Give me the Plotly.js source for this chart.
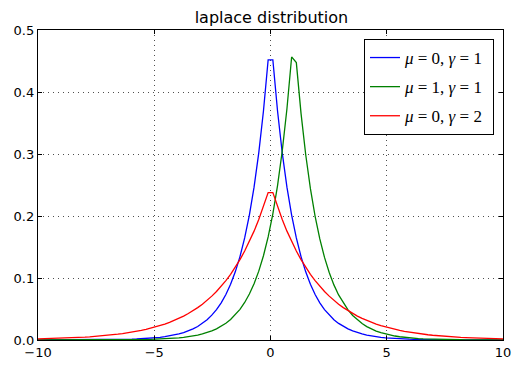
<!DOCTYPE html>
<html><head><meta charset="utf-8">
<script src="https://cdn.plot.ly/plotly-3.0.1.min.js"></script>
<style>html,body{margin:0;padding:0;background:#fff}#chart{width:521px;height:370px}</style>
</head><body><div id="chart"></div>
<script>
var xNeg = [-10,-9.798,-9.596,-9.394,-9.192,-8.990,-8.788,-8.586,-8.384,-8.182,-7.980,-7.778,-7.576,-7.374,-7.172,-6.970,-6.768,-6.566,-6.364,-6.162,-5.960,-5.758,-5.556,-5.354,-5.152,-4.949,-4.747,-4.545,-4.343,-4.141,-3.939,-3.737,-3.535,-3.333,-3.131,-2.929,-2.727,-2.525,-2.323,-2.121,-1.919,-1.717,-1.515,-1.313,-1.111,-0.909,-0.707,-0.505,-0.303,-0.101];
var xPos = [0.101,0.303,0.505,0.707,0.909,1.111,1.313,1.515,1.717,1.919,2.121,2.323,2.525,2.727,2.929,3.131,3.333,3.535,3.737,3.939,4.141,4.343,4.545,4.747,4.949,5.152,5.354,5.556,5.758,5.960,6.162,6.364,6.566,6.768,6.970,7.172,7.374,7.576,7.778,7.980,8.182,8.384,8.586,8.788,8.990,9.192,9.394,9.596,9.798,10];
var xValues = xNeg.concat(xPos);

// mu=0, gamma=1
var yBlueRight = [0.45197,0.36930,0.30176,0.24657,0.20147,0.16463,0.13452,0.10992,0.08981,0.07339,0.05997,0.04900,0.04004,0.03272,0.02673,0.02184,0.01785,0.01458,0.01192,0.00974,0.00796,0.00650,0.00531,0.00434,0.00355,0.00290,0.00237,0.00193,0.00158,0.00129,0.00106,0.00086,0.00071,0.00058,0.00047,0.00039,0.00031,0.00026,0.00021,0.00017,0.00014,0.00011,0.00009,0.00008,0.00006,0.00005,0.00004,0.00003,0.00003,0.00002];
var yBlueLeft = [0.00002,0.00003,0.00003,0.00004,0.00005,0.00006,0.00008,0.00009,0.00011,0.00014,0.00017,0.00021,0.00026,0.00031,0.00039,0.00047,0.00058,0.00071,0.00086,0.00106,0.00129,0.00158,0.00193,0.00237,0.00290,0.00355,0.00434,0.00531,0.00650,0.00796,0.00974,0.01192,0.01458,0.01785,0.02184,0.02673,0.03272,0.04004,0.04900,0.05997,0.07339,0.08981,0.10992,0.13452,0.16463,0.20147,0.24657,0.30176,0.36930,0.45197];
var yBlue = yBlueLeft.concat(yBlueRight);

// mu=1, gamma=1
var yGreen = [0.00001,0.00001,0.00001,0.00002,0.00002,0.00002,0.00003,0.00003,0.00004,0.00005,0.00006,0.00008,0.00009,0.00012,0.00014,0.00017,0.00021,0.00026,0.00032,0.00039,0.00048,0.00058,0.00071,0.00087,0.00107,0.00131,0.00160,0.00196,0.00239,0.00293,0.00358,0.00438,0.00537,0.00657,0.00804,0.00983,0.01204,0.01473,0.01803,0.02206,0.02700,0.03304,0.04044,0.04949,0.06057,0.07413,0.09072,0.11103,0.13588,0.16629,0.20352,0.24907,0.30482,0.37305,0.45655,
  0.44742,0.36559,0.29872,0.24409,0.19944,0.16296,0.13316,0.10880,0.08890,0.07264,0.05936,0.04850,0.03963,0.03238,0.02646,0.02162,0.01767,0.01443,0.01179,0.00964,0.00787,0.00643,0.00526,0.00430,0.00351,0.00287,0.00234,0.00191,0.00156,0.00128,0.00104,0.00085,0.00070,0.00057,0.00047,0.00038,0.00031,0.00025,0.00021,0.00017,0.00014,0.00011,0.00009,0.00008,0.00006];

// mu=0, gamma=2
var yRedRight = [0.23769,0.21486,0.19422,0.17556,0.15869,0.14345,0.12967,0.11721,0.10595,0.09577,0.08657,0.07825,0.07074,0.06394,0.05780,0.05225,0.04723,0.04269,0.03859,0.03488,0.03153,0.02850,0.02576,0.02329,0.02105,0.01903,0.01720,0.01555,0.01405,0.01270,0.01148,0.01038,0.00938,0.00848,0.00767,0.00693,0.00626,0.00566,0.00512,0.00463,0.00418,0.00378,0.00342,0.00309,0.00279,0.00252,0.00228,0.00206,0.00186,0.00168];
var yRedLeft = [0.00168,0.00186,0.00206,0.00228,0.00252,0.00279,0.00309,0.00342,0.00378,0.00418,0.00463,0.00512,0.00566,0.00626,0.00693,0.00767,0.00848,0.00938,0.01038,0.01148,0.01270,0.01405,0.01555,0.01720,0.01903,0.02105,0.02329,0.02576,0.02850,0.03153,0.03488,0.03859,0.04269,0.04723,0.05225,0.05780,0.06394,0.07074,0.07825,0.08657,0.09577,0.10595,0.11721,0.12967,0.14345,0.15869,0.17556,0.19422,0.21486,0.23769];
var yRed = yRedLeft.concat(yRedRight);

var seriesNames = ['<i>μ</i> = 0, <i>γ</i> = 1 ', '<i>μ</i> = 1, <i>γ</i> = 1 ', '<i>μ</i> = 0, <i>γ</i> = 2 '];
var xTicks = [-10, -5, 0, 5, 10];
var xTickText = ['\u221210', '\u22125', '0', '5', '10'];
var yTicks = [0.0, 0.1, 0.2, 0.3, 0.4, 0.5];
var yTickText = ['0.0', '0.1', '0.2', '0.3', '0.4', '0.5'];

var traces = [
  {x: xValues, y: yBlue, name: seriesNames[0], legendgroup: 'g1', mode: 'lines', line: {color: '#0000ff', width: 1.3}},
  {x: xValues, y: yGreen, name: seriesNames[1], legendgroup: 'g2', mode: 'lines', line: {color: '#008000', width: 1.3}},
  {x: xValues, y: yRed, name: seriesNames[2], legendgroup: 'g3', mode: 'lines', line: {color: '#ff0000', width: 1.3}}
];

var axisCommon = {
  showline: true, linecolor: '#000', linewidth: 1.2, mirror: 'ticks',
  ticks: 'inside', ticklen: 4, tickwidth: 1, tickcolor: '#000',
  showgrid: true, gridcolor: '#222', gridwidth: 0.8, griddash: '1px,4px',
  zeroline: false, tickfont: {family: 'DejaVu Sans', size: 13, color: '#000'}
};

var layout = {
  width: 521, height: 370,
  margin: {l: 38, r: 18, t: 30, b: 30},
  paper_bgcolor: '#fff', plot_bgcolor: '#fff',
  title: {text: 'laplace distribution', font: {family: 'DejaVu Sans', size: 16, color: '#000'}, x: 0.521, xanchor: 'center', y: 0.952, yanchor: 'middle'},
  xaxis: Object.assign({}, axisCommon, {range: [-10, 10], tickvals: xTicks, ticktext: xTickText}),
  yaxis: Object.assign({}, axisCommon, {range: [0, 0.5], tickvals: yTicks, ticktext: yTickText}),
  showlegend: true,
  legend: {x: 0.9806, y: 0.971, xanchor: 'right', yanchor: 'top', bgcolor: '#fff', bordercolor: '#000', borderwidth: 1,
    font: {family: 'Liberation Serif', size: 17, color: '#000'}, tracegroupgap: 4}
};

Plotly.newPlot('chart', traces, layout, {staticPlot: true, displayModeBar: false});
</script></body></html>
